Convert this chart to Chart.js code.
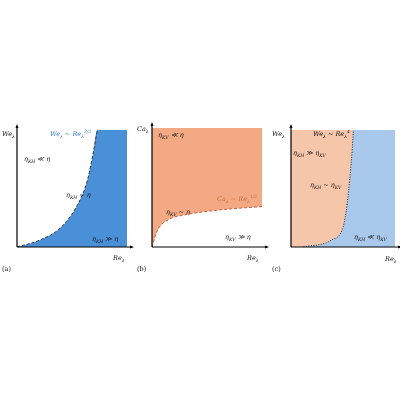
<!DOCTYPE html><html><head><meta charset="utf-8">
<script src="https://cdn.jsdelivr.net/npm/chart.js@4"></script>
<style>
body{margin:0;width:400px;height:400px;background:#fff;position:relative;overflow:hidden;font-family:"DejaVu Serif",serif}
.c{position:absolute}
.t{position:absolute;font-size:6.5px;font-style:italic;white-space:nowrap;color:#111;line-height:1}
.t sub,.t sup{font-size:4.5px}
.n{font-style:normal}
</style></head><body>
<div class="c" style="left:0;top:110px;width:135px;height:170px"><canvas id="a"></canvas></div>
<div class="c" style="left:135px;top:108px;width:135px;height:172px"><canvas id="b"></canvas></div>
<div class="c" style="left:270px;top:110px;width:130px;height:170px"><canvas id="c"></canvas></div>

<div class="t" style="left:2px;top:131px">We<sub>λ</sub></div>
<div class="t" style="left:50px;top:130px;color:#3a7fcf">We<sub>λ</sub> ~ Re<sub>λ</sub><sup>3/2</sup></div>
<div class="t" style="left:24px;top:156px">η<sub>KH</sub> ≪ η</div>
<div class="t" style="left:66px;top:192px">η<sub>KH</sub> ~ η</div>
<div class="t" style="left:92px;top:236px">η<sub>KH</sub> ≫ η</div>
<div class="t" style="left:113px;top:255px">Re<sub>λ</sub></div>
<div class="t n" style="left:2px;top:266px">(a)</div>

<div class="t" style="left:137px;top:126px">Ca<sub>λ</sub></div>
<div class="t" style="left:158px;top:132px">η<sub>KV</sub> ≪ η</div>
<div class="t" style="left:217px;top:195px;color:#d0703e">Ca<sub>λ</sub> ~ Re<sub>λ</sub><sup>1/2</sup></div>
<div class="t" style="left:166px;top:209px">η<sub>KV</sub> ~ η</div>
<div class="t" style="left:225px;top:234px">η<sub>KV</sub> ≫ η</div>
<div class="t" style="left:247px;top:255px">Re<sub>λ</sub></div>
<div class="t n" style="left:137px;top:266px">(b)</div>

<div class="t" style="left:272px;top:131px">We<sub>λ</sub></div>
<div class="t" style="left:313px;top:130px">We<sub>λ</sub> ~ Re<sub>λ</sub><sup>4</sup></div>
<div class="t" style="left:293px;top:150px">η<sub>KH</sub> ≫ η<sub>KV</sub></div>
<div class="t" style="left:310px;top:182px">η<sub>KH</sub> ~ η<sub>KV</sub></div>
<div class="t" style="left:354px;top:234px">η<sub>KH</sub> ≪ η<sub>KV</sub></div>
<div class="t" style="left:385px;top:256px">Re<sub>λ</sub></div>
<div class="t n" style="left:272px;top:266px">(c)</div>

<script>
const aX=[0,21,39,55,64,69,73], aY=[0,6,16,36,57,79,100];
const bX=[0,5,15,30,60,100], bY=[0,14,23,27,31,34];
const cX=[12,39,50,54,59,60], cY=[0,6,17,37,85,100];

const pts=(xs,ys)=>xs.map((x,i)=>({x,y:ys[i]}));
const axesPlugin={id:'ax',afterDraw(ch){const {ctx,chartArea:a}=ch;ctx.save();ctx.strokeStyle='#000';ctx.fillStyle='#000';ctx.lineWidth=1.2;
ctx.beginPath();ctx.moveTo(a.left,a.bottom);ctx.lineTo(a.left,a.top-4);ctx.moveTo(a.left,a.bottom);ctx.lineTo(a.right+5,a.bottom);ctx.stroke();
ctx.beginPath();ctx.moveTo(a.left,a.top-6);ctx.lineTo(a.left-1.5,a.top-2);ctx.lineTo(a.left+1.5,a.top-2);ctx.fill();
ctx.beginPath();ctx.moveTo(a.right+7,a.bottom);ctx.lineTo(a.right+3,a.bottom-1.5);ctx.lineTo(a.right+3,a.bottom+1.5);ctx.fill();ctx.restore();}};
function mk(id,pad,datasets){new Chart(document.getElementById(id),{type:'line',data:{datasets},
options:{responsive:true,maintainAspectRatio:false,animation:false,events:[],layout:{padding:pad},
elements:{point:{radius:0},line:{tension:0.4}},plugins:{legend:{display:false},tooltip:{enabled:false}},
scales:{x:{type:'linear',min:0,max:100,display:false},y:{min:0,max:100,display:false}}},plugins:[axesPlugin]});}

mk('a',{left:17,top:20,right:8,bottom:33},[
 {data:pts(aX,aY),fill:false,borderColor:'#333',borderWidth:1,borderDash:[3,2],cubicInterpolationMode:'monotone'},
 {data:pts(aX.concat([100]),aY.concat([100])),fill:'origin',backgroundColor:'#4a90d9',borderWidth:0,cubicInterpolationMode:'monotone'}]);
mk('b',{left:17,top:20,right:8,bottom:33},[
 {data:pts(bX,bY),fill:'end',backgroundColor:'#f2a984',borderColor:'#c0603a',borderWidth:1,borderDash:[3,2],cubicInterpolationMode:'monotone'}]);
mk('c',{left:21,top:20,right:5,bottom:33},[
 {data:pts(cX,cY),fill:false,borderColor:'#222',borderWidth:1,borderDash:[1,1.5],cubicInterpolationMode:'monotone'},
 {data:pts(cX.concat([100]),cY.concat([100])),fill:'origin',backgroundColor:'#a8c9ec',borderWidth:0,cubicInterpolationMode:'monotone'},
 {data:[{x:0,y:100},{x:100,y:100}],fill:'origin',backgroundColor:'#f6c6aa',borderWidth:0,tension:0}]);
</script></body></html>
